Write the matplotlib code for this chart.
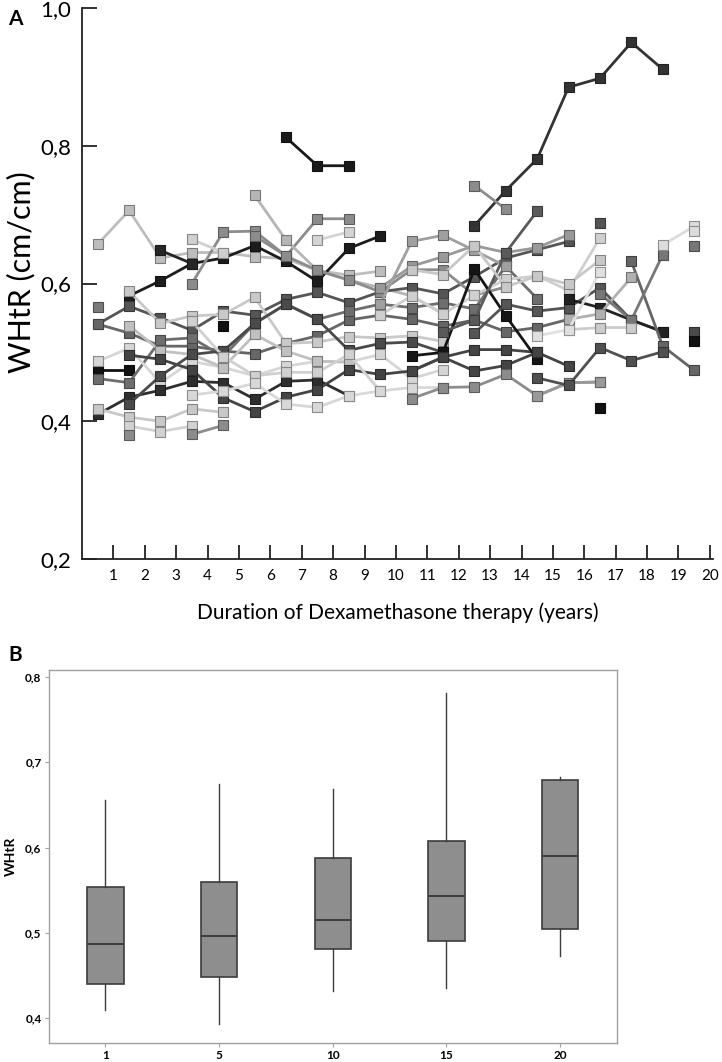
import numpy as np
import matplotlib
matplotlib.use('Agg')
import matplotlib.pyplot as plt
from matplotlib.colors import to_rgb

plt.rcParams['font.family'] = ['Lato', 'DejaVu Sans']

# Panel A: WHtR per patient, measured in the middle of each therapy year
start_year = [
    0.5, 1.5, 2.5, 3.5, 5.5, 7.5, 6.5, 12.5, 12.5, 3.5,
    0.5, 0.5, 0.5, 0.5, 0.5, 0.5, 0.5, 0.5, 1.5, 1.5,
    3.5, 1.5, 1.5, 1.5, 1.5, 3.5, 3.5, 4.5, 5.5, 9.5,
    9.5, 9.5, 10.5, 10.5, 10.5, 11.5, 10.5, 12.5, 15.5, 17.5,
    15.5, 16.5, 18.5, 14.5, 14.5, 16.5, 19.5, 19.5, 19.5, 19.5,
    15.5, 16.5, 14.5,
]
whtr = [
    [0.657, 0.706, 0.637, 0.645, 0.645, 0.639, 0.636, 0.619, 0.612, 0.618],
    [0.582, 0.604, 0.629, 0.637, 0.655, 0.632, 0.603, 0.651, 0.669],
    [0.648, 0.629],
    [0.600, 0.675, 0.676, 0.640, 0.694, 0.694],
    [0.728, 0.663, 0.619, 0.605, 0.594, 0.582, 0.556],
    [0.663, 0.675],
    [0.812, 0.771, 0.771],
    [0.684, 0.735, 0.781, 0.885, 0.898, 0.950, 0.911],
    [0.742, 0.708],
    [0.664, 0.645],
    [0.541, 0.567, 0.550, 0.532, 0.560, 0.554, 0.577, 0.587, 0.572, 0.588,
     0.594, 0.585, 0.610, 0.637, 0.649, 0.661],
    [0.566],
    [0.541, 0.528, 0.509, 0.509, 0.502, 0.498, 0.513, 0.524, 0.547, 0.554,
     0.548, 0.538, 0.547, 0.530, 0.536, 0.548],
    [0.474, 0.474],
    [0.462, 0.456, 0.518, 0.521, 0.494, 0.542, 0.570, 0.548, 0.560, 0.570,
     0.565, 0.572, 0.563, 0.625, 0.578],
    [0.487, 0.506, 0.456, 0.487, 0.478, 0.466, 0.480, 0.487, 0.486, 0.497,
     0.462, 0.475],
    [0.410, 0.435, 0.445, 0.458, 0.456, 0.432, 0.458, 0.460, 0.437],
    [0.418, 0.406, 0.400, 0.418, 0.413],
    [0.393, 0.385, 0.393],
    [0.380],
    [0.381, 0.394],
    [0.589, 0.542, 0.553, 0.555, 0.580, 0.513, 0.515, 0.523, 0.521, 0.524,
     0.516],
    [0.539, 0.502, 0.497, 0.478, 0.526, 0.502, 0.487, 0.486],
    [0.496, 0.490, 0.475, 0.434, 0.414, 0.435, 0.446, 0.475, 0.468, 0.473,
     0.493, 0.504, 0.504, 0.500],
    [0.425, 0.466, 0.497, 0.502, 0.542, 0.570, 0.548, 0.503, 0.513, 0.515,
     0.500],
    [0.545, 0.494, 0.466, 0.471, 0.471, 0.497, 0.444],
    [0.438, 0.444, 0.455, 0.425, 0.420, 0.437, 0.444, 0.449, 0.449],
    [0.539],
    [0.669, 0.640, 0.619, 0.605, 0.588, 0.620, 0.620, 0.583, 0.595],
    [0.594, 0.625, 0.639, 0.655, 0.645, 0.652, 0.671],
    [0.570, 0.661, 0.670, 0.648, 0.625],
    [0.554, 0.582, 0.556, 0.583, 0.606, 0.611, 0.590, 0.666],
    [0.495, 0.500, 0.621, 0.553, 0.490],
    [0.473, 0.493, 0.473, 0.481, 0.500, 0.480],
    [0.433, 0.449, 0.450, 0.468, 0.437, 0.456, 0.457],
    [0.530, 0.547, 0.645, 0.705],
    [0.620, 0.613, 0.655, 0.595, 0.611, 0.599, 0.634],
    [0.528, 0.570, 0.560, 0.565, 0.594, 0.547, 0.530],
    [0.577, 0.565, 0.547, 0.530],
    [0.632, 0.509, 0.474],
    [0.548, 0.556, 0.609],
    [0.585, 0.547, 0.642],
    [0.656, 0.683],
    [0.437, 0.456, 0.457],
    [0.463, 0.452, 0.507, 0.488, 0.501],
    [0.419],
    [0.529],
    [0.516],
    [0.654],
    [0.676],
    [0.533, 0.536, 0.536],
    [0.688],
    [0.524, 0.533, 0.617],
]
grey = [
    '#bdbdbd', '#1c1c1c', '#262626', '#8c8c8c', '#b5b5b5', '#d4d4d4', '#1a1a1a', '#333333', '#8c8c8c', '#cfcfcf',
    '#555555', '#7a7a7a', '#666666', '#111111', '#6e6e6e', '#d6d6d6', '#2e2e2e', '#c8c8c8', '#d2d2d2', '#8c8c8c',
    '#8c8c8c', '#c9c9c9', '#c0c0c0', '#444444', '#4a4a4a', '#d0d0d0', '#d8d8d8', '#111111', '#8c8c8c', '#999999',
    '#a0a0a0', '#cfcfcf', '#151515', '#444444', '#8c8c8c', '#5a5a5a', '#c8c8c8', '#555555', '#222222', '#666666',
    '#b0b0b0', '#777777', '#dcdcdc', '#999999', '#505050', '#111111', '#4a4a4a', '#111111', '#777777', '#dcdcdc',
    '#cccccc', '#555555', '#e0e0e0',
]

# Panel B: boxplot summary at 1, 5, 10, 15, 20 years
box_labels = ['1', '5', '10', '15', '20']
box_low = [0.410, 0.393, 0.432, 0.436, 0.473]
box_q1 = [0.440, 0.448, 0.481, 0.490, 0.505]
box_med = [0.487, 0.496, 0.515, 0.543, 0.590]
box_q3 = [0.554, 0.560, 0.588, 0.608, 0.679]
box_high = [0.656, 0.674, 0.668, 0.781, 0.683]

W, H = 722, 1062
fig = plt.figure(figsize=(W / 100, H / 100), dpi=100)

# ---- panel A ----
axA = fig.add_axes([82 / W, 1 - 559 / H, 631 / W, 551 / H])
for s, v, g in zip(start_year, whtr, grey):
    x = s + np.arange(len(v))
    edge = tuple(c * 0.65 for c in to_rgb(g))
    axA.plot(x, v, '-', color=g, lw=2.0, marker='s', ms=6.5,
             mfc=g, mec=edge, mew=0.8)

axA.set_xlim(0, 20.1)
axA.set_ylim(0.2, 1.0)
for side in ['top', 'right']:
    axA.spines[side].set_visible(False)
for side in ['left', 'bottom']:
    axA.spines[side].set_linewidth(1.3)
    axA.spines[side].set_color('#222222')
axA.set_xticks(range(1, 21))
axA.set_xticklabels([str(i) for i in range(1, 21)], fontsize=11)
yt = [0.2, 0.4, 0.6, 0.8, 1.0]
axA.set_yticks(yt)
axA.set_yticklabels([f'{v:.1f}'.replace('.', ',') for v in yt], fontsize=16)
axA.tick_params(axis='x', direction='in', length=10, width=1.3, pad=7, color='#222222')
axA.tick_params(axis='y', direction='in', length=11, width=1.3, pad=8, color='#222222')
axA.set_xlabel('Duration of Dexamethasone therapy (years)', fontsize=15, labelpad=14)
fig.text(21 / W, 1 - 272 / H, 'WHtR (cm/cm)', fontsize=22, rotation=90,
         ha='center', va='center')
fig.text(8 / W, 1 - 19 / H, 'A', fontsize=15, fontweight='bold', va='center')

# ---- panel B ----
axB = fig.add_axes([48.5 / W, 1 - 1043 / H, 568.5 / W, 373 / H])
stats = []
for lab, lo, q1, med, q3, hi in zip(box_labels, box_low, box_q1, box_med, box_q3, box_high):
    stats.append({'label': lab, 'whislo': lo, 'q1': q1, 'med': med,
                  'q3': q3, 'whishi': hi, 'fliers': []})
axB.bxp(stats, positions=range(1, 6), widths=0.32, patch_artist=True,
        showcaps=False, showfliers=False,
        boxprops=dict(facecolor='#8e8e8e', edgecolor='#3c3c3c', linewidth=1.2),
        medianprops=dict(color='#3c3c3c', linewidth=1.4),
        whiskerprops=dict(color='#3c3c3c', linewidth=1.0))
axB.set_xlim(0.5, 5.5)
axB.set_ylim(0.371, 0.808)
for sp in axB.spines.values():
    sp.set_color('#a0a0a0')
    sp.set_linewidth(1.0)
byt = [0.4, 0.5, 0.6, 0.7, 0.8]
axB.set_yticks(byt)
axB.set_yticklabels([f'{v:.1f}'.replace('.', ',') for v in byt], fontsize=8.5, fontweight='bold')
axB.set_xticklabels(box_labels, fontsize=8.5, fontweight='bold')
axB.tick_params(length=3, width=0.8, color='#a0a0a0', pad=2)
axB.set_ylabel('WHtR', fontsize=10, fontweight='bold', labelpad=6)
fig.text(8 / W, 1 - 655 / H, 'B', fontsize=15, fontweight='bold', va='center')

fig.savefig('out.png', dpi=100, facecolor='white')
